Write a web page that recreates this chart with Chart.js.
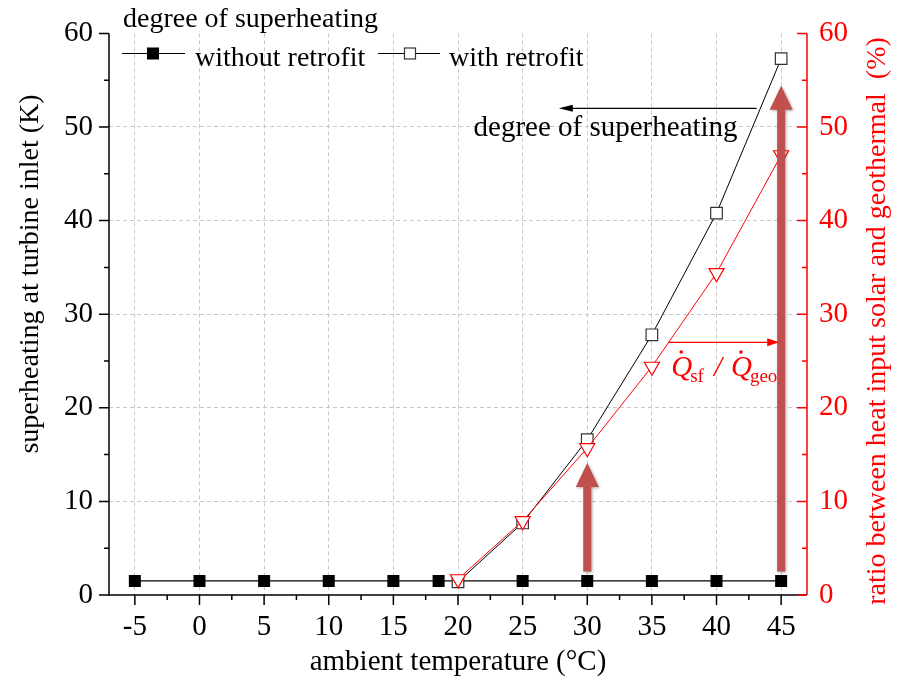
<!DOCTYPE html>
<html lang="en">

<head>
    <meta charset="UTF-8">
    <title>superheating</title>
    <script src="https://cdn.jsdelivr.net/npm/chart.js"></script>
    <style>
        body {
            margin: 0;
            background: #fff;
        }
    </style>
</head>

<body>
    <canvas id="myChart" width="901" height="682"></canvas>

    <script>
        // data
        const tempsWithout = [-5, 0, 5, 10, 15, 18.5, 20, 25, 30, 35, 40, 45];
        const shWithout = [1.5, 1.5, 1.5, 1.5, 1.5, 1.5, 1.5, 1.5, 1.5, 1.5, 1.5, 1.5];
        const tempsWith = [20, 25, 30, 35, 40, 45];
        const shWith = [1.4, 7.7, 16.6, 27.8, 40.8, 57.3];
        const ratioSolarGeo = [1.7, 7.9, 15.7, 24.4, 34.4, 47.0];

        const xTicks = [-5, 0, 5, 10, 15, 20, 25, 30, 35, 40, 45];
        const yTicks = [0, 10, 20, 30, 40, 50, 60];

        // thick arrows (x, from, to)
        const bigArrowX = [30, 45];
        const bigArrowFrom = [2.5, 2.5];
        const bigArrowTo = [14.1, 54.4];

        const SERIF = '"Liberation Serif", "Times New Roman", serif';
        const RED = '#ff0000';
        const ARROW = 'rgb(192,80,77)';

        Chart.defaults.font.family = SERIF;

        function toXY(xs, ys) {
            return xs.map((v, i) => ({ x: v, y: ys[i] }));
        }

        function arrowHead(ctx, x, y, dir, len, half) {
            // dir: 1 points right, -1 points left
            ctx.beginPath();
            ctx.moveTo(x, y);
            ctx.lineTo(x - dir * len, y - half);
            ctx.lineTo(x - dir * len, y + half);
            ctx.closePath();
            ctx.fill();
        }

        const extras = {
            id: 'extras',
            afterDatasetsDraw(chart) {
                const { ctx, scales: { x, y } } = chart;
                ctx.save();
                ctx.fillStyle = ARROW;
                ctx.shadowColor = 'rgba(0,0,0,0.35)';
                ctx.shadowBlur = 3;
                ctx.shadowOffsetX = 1;
                ctx.shadowOffsetY = 1;
                bigArrowX.forEach((xv, i) => {
                    const px = x.getPixelForValue(xv);
                    const y0 = y.getPixelForValue(bigArrowFrom[i]);
                    const y1 = y.getPixelForValue(bigArrowTo[i]);
                    ctx.beginPath();
                    ctx.moveTo(px - 4, y0);
                    ctx.lineTo(px - 4, y1 + 24);
                    ctx.lineTo(px - 11.5, y1 + 24);
                    ctx.lineTo(px, y1);
                    ctx.lineTo(px + 11.5, y1 + 24);
                    ctx.lineTo(px + 4, y1 + 24);
                    ctx.lineTo(px + 4, y0);
                    ctx.closePath();
                    ctx.fill();
                });
                ctx.restore();
            },
            afterDraw(chart) {
                const { ctx, chartArea: a, scales: { x, y, y2 } } = chart;
                ctx.save();

                // axis lines
                ctx.lineWidth = 1.5;
                ctx.strokeStyle = '#000';
                ctx.beginPath();
                ctx.moveTo(a.left, a.top);
                ctx.lineTo(a.left, a.bottom);
                ctx.lineTo(a.right, a.bottom);
                ctx.stroke();

                // x ticks
                ctx.beginPath();
                xTicks.forEach(v => {
                    const p = x.getPixelForValue(v);
                    ctx.moveTo(p, a.bottom);
                    ctx.lineTo(p, a.bottom + 10);
                    if (v < 45) {
                        const m = x.getPixelForValue(v + 2.5);
                        ctx.moveTo(m, a.bottom);
                        ctx.lineTo(m, a.bottom + 5);
                    }
                });
                // left y ticks
                yTicks.forEach(v => {
                    const p = y.getPixelForValue(v);
                    ctx.moveTo(a.left, p);
                    ctx.lineTo(a.left - 10, p);
                    if (v < 60) {
                        const m = y.getPixelForValue(v + 5);
                        ctx.moveTo(a.left, m);
                        ctx.lineTo(a.left - 5, m);
                    }
                });
                ctx.stroke();

                // right axis, red, ticks inside
                ctx.strokeStyle = RED;
                ctx.beginPath();
                ctx.moveTo(a.right, a.top);
                ctx.lineTo(a.right, a.bottom);
                yTicks.forEach(v => {
                    const p = y2.getPixelForValue(v);
                    ctx.moveTo(a.right, p);
                    ctx.lineTo(a.right - 10, p);
                    if (v < 60) {
                        const m = y2.getPixelForValue(v + 5);
                        ctx.moveTo(a.right, m);
                        ctx.lineTo(a.right - 5, m);
                    }
                });
                ctx.stroke();

                // axis titles
                ctx.fillStyle = '#000';
                ctx.textAlign = 'center';
                ctx.textBaseline = 'alphabetic';
                ctx.font = '29px ' + SERIF;
                ctx.fillText('ambient temperature (°C)', (a.left + a.right) / 2, 670);

                ctx.save();
                ctx.translate(38, 274);
                ctx.rotate(-Math.PI / 2);
                ctx.font = '28px ' + SERIF;
                ctx.fillText('superheating at turbine inlet (K)', 0, 0);
                ctx.restore();

                ctx.save();
                ctx.translate(885, 321);
                ctx.rotate(-Math.PI / 2);
                ctx.fillStyle = RED;
                ctx.font = '28px ' + SERIF;
                ctx.fillText('ratio between heat input solar and geothermal  (%)', 0, 0);
                ctx.restore();

                // legend
                ctx.textAlign = 'left';
                ctx.font = '28px ' + SERIF;
                ctx.fillText('degree of superheating', 123, 27);
                ctx.lineWidth = 1;
                ctx.strokeStyle = '#000';
                ctx.beginPath();
                ctx.moveTo(122, 53.5);
                ctx.lineTo(185, 53.5);
                ctx.moveTo(378, 53.5);
                ctx.lineTo(440, 53.5);
                ctx.stroke();
                ctx.fillRect(147, 47.5, 12, 12);
                ctx.fillStyle = '#fff';
                ctx.fillRect(404.5, 48, 11, 11);
                ctx.strokeStyle = '#333';
                ctx.lineWidth = 1.2;
                ctx.strokeRect(404.5, 48, 11, 11);
                ctx.fillStyle = '#000';
                ctx.font = '28px ' + SERIF;
                ctx.fillText('without retrofit', 195, 66);
                ctx.fillText('with retrofit', 449, 66);

                // black arrow + label
                const by = y.getPixelForValue(52.0);
                const bx0 = x.getPixelForValue(43.1);
                const bx1 = x.getPixelForValue(27.8);
                ctx.strokeStyle = '#000';
                ctx.lineWidth = 1.3;
                ctx.beginPath();
                ctx.moveTo(bx0, by);
                ctx.lineTo(bx1 + 12, by);
                ctx.stroke();
                arrowHead(ctx, bx1, by, -1, 14, 3.5);
                ctx.font = '29px ' + SERIF;
                ctx.fillText('degree of superheating', x.getPixelForValue(21.2), y.getPixelForValue(49.0));

                // red arrow + Q label
                const ry = y2.getPixelForValue(27.0);
                const rx0 = x.getPixelForValue(36.3);
                const rx1 = x.getPixelForValue(44.85);
                ctx.strokeStyle = RED;
                ctx.fillStyle = RED;
                ctx.beginPath();
                ctx.moveTo(rx0, ry);
                ctx.lineTo(rx1 - 10, ry);
                ctx.stroke();
                arrowHead(ctx, rx1, ry, 1, 12, 4);

                let qx = x.getPixelForValue(36.5);
                const qy = y2.getPixelForValue(23.4);
                ctx.font = 'italic 29px ' + SERIF;
                ctx.fillText('Q', qx, qy);
                ctx.beginPath();
                ctx.arc(qx + 10, qy - 24, 1.8, 0, Math.PI * 2);
                ctx.fill();
                qx += ctx.measureText('Q').width;
                ctx.font = '19px ' + SERIF;
                ctx.fillText('sf', qx - 2, qy + 6);
                qx += ctx.measureText('sf').width + 8;
                ctx.font = 'italic 29px ' + SERIF;
                ctx.fillText('/', qx, qy);
                qx += ctx.measureText('/').width + 9;
                ctx.fillText('Q', qx, qy);
                ctx.beginPath();
                ctx.arc(qx + 10, qy - 24, 1.8, 0, Math.PI * 2);
                ctx.fill();
                qx += ctx.measureText('Q').width;
                ctx.font = '19px ' + SERIF;
                ctx.fillText('geo', qx - 2, qy + 6);

                ctx.restore();
            }
        };

        const gridColor = '#c8c8c8';

        const myChart = new Chart(document.getElementById('myChart'), {
            type: 'line',
            data: {
                datasets: [{
                    label: 'ratio',
                    data: toXY(tempsWith, ratioSolarGeo),
                    yAxisID: 'y2',
                    order: 1,
                    borderColor: RED,
                    borderWidth: 1,
                    pointStyle: 'triangle',
                    pointRotation: 180,
                    pointRadius: 8.7,
                    pointBackgroundColor: '#fff',
                    pointBorderColor: RED,
                    pointBorderWidth: 1.2
                }, {
                    label: 'with retrofit',
                    data: toXY(tempsWith, shWith),
                    yAxisID: 'y',
                    order: 2,
                    borderColor: '#000',
                    borderWidth: 1,
                    pointStyle: 'rect',
                    pointRadius: 8.2,
                    pointBackgroundColor: '#fff',
                    pointBorderColor: '#333',
                    pointBorderWidth: 1.2
                }, {
                    label: 'without retrofit',
                    data: toXY(tempsWithout, shWithout),
                    yAxisID: 'y',
                    order: 3,
                    borderColor: '#000',
                    borderWidth: 1.2,
                    pointStyle: 'rect',
                    pointRadius: 8.5,
                    pointBackgroundColor: '#000',
                    pointBorderColor: '#000',
                    pointBorderWidth: 0
                }]
            },
            options: {
                responsive: false,
                animation: false,
                devicePixelRatio: 1,
                layout: { padding: { top: 32, left: 0, right: 0, bottom: 0 } },
                plugins: {
                    legend: { display: false },
                    tooltip: { enabled: false }
                },
                scales: {
                    x: {
                        type: 'linear',
                        min: -7,
                        max: 47,
                        afterBuildTicks: s => { s.ticks = xTicks.map(v => ({ value: v })); },
                        afterFit: s => { s.height = 87; },
                        grid: { color: gridColor, drawTicks: false, lineWidth: 1 },
                        border: { display: false, dash: [4, 3] },
                        ticks: {
                            color: '#000',
                            font: { size: 29 },
                            padding: 15,
                            maxRotation: 0,
                            autoSkip: false
                        }
                    },
                    y: {
                        position: 'left',
                        min: 0,
                        max: 60,
                        afterBuildTicks: s => { s.ticks = yTicks.map(v => ({ value: v })); },
                        afterFit: s => { s.width = 109; },
                        grid: {
                            color: c => (c.tick && (c.tick.value === 0 || c.tick.value === 60)) ? 'rgba(0,0,0,0)' : gridColor,
                            drawTicks: false,
                            lineWidth: 1
                        },
                        border: { display: false, dash: [4, 3] },
                        ticks: { color: '#000', font: { size: 29 }, padding: 16 }
                    },
                    y2: {
                        position: 'right',
                        min: 0,
                        max: 60,
                        afterBuildTicks: s => { s.ticks = yTicks.map(v => ({ value: v })); },
                        afterFit: s => { s.width = 94; },
                        grid: { display: false, drawTicks: false },
                        border: { display: false },
                        ticks: { color: RED, font: { size: 29 }, padding: 12 }
                    }
                }
            },
            plugins: [extras]
        });
    </script>
</body>

</html>
